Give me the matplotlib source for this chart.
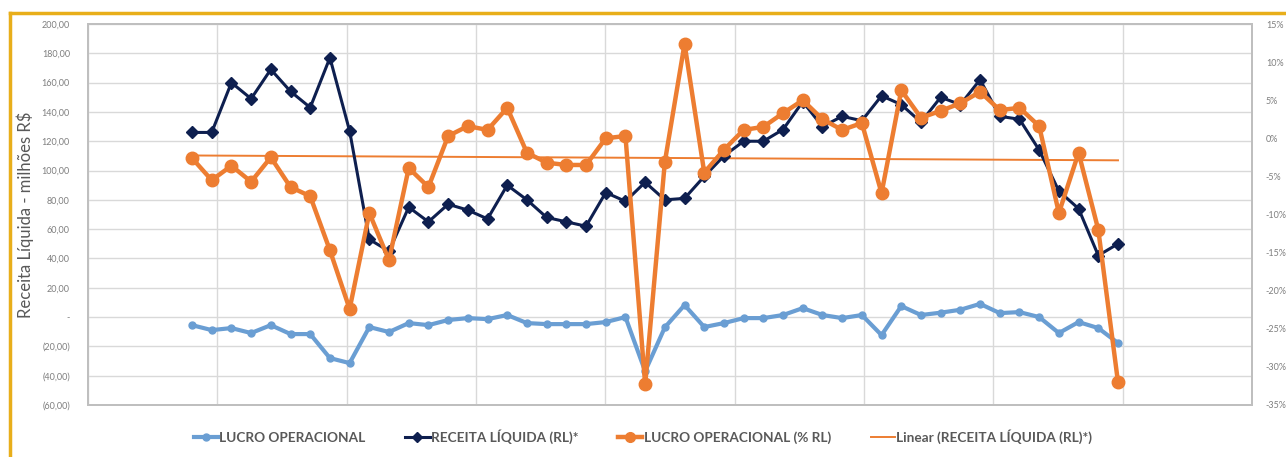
import numpy as np
import matplotlib
matplotlib.use('Agg')
import matplotlib.pyplot as plt
from matplotlib.lines import Line2D

plt.rcParams['font.family'] = ['Lato', 'DejaVu Sans']

# dados (48 periodos)
receita = [126, 126, 160, 149, 169, 154, 143, 177, 127, 53, 45, 75, 65, 77, 73, 67,
           90, 80, 68, 65, 62, 85, 79, 92, 80, 81, 96, 110, 120, 120, 128, 147,
           130, 137, 134, 151, 145, 133, 150, 145, 162, 137, 135, 114, 86, 74, 42, 50]
lucro = [-5.5, -8.9, -7.5, -10.9, -5.5, -11.6, -11.6, -28, -31.4, -6.8, -10.2, -4.1,
         -5.5, -2.0, -0.7, -1.4, 1.4, -4.1, -4.8, -4.8, -4.8, -3.4, 0, -37,
         -7, 8.2, -6.8, -4.1, -0.7, -0.7, 1.4, 6.1, 1.4, -0.7, 1.4, -12.3,
         7.5, 1.4, 3, 5, 9, 2.7, 3.4, 0, -10.9, -3.4, -7.5, -17.7]
lucro_pct = [-2.6, -5.5, -3.6, -5.7, -2.5, -6.4, -7.6, -14.7, -22.4, -9.8, -16.0, -3.9,
             -6.4, 0.3, 1.6, 1.1, 4.0, -1.9, -3.2, -3.5, -3.5, 0.0, 0.3, -32.3,
             -3.1, 12.4, -4.5, -1.5, 1.1, 1.5, 3.3, 5.0, 2.5, 1.1, 2.0, -7.2,
             6.3, 2.7, 3.6, 4.6, 6.1, 3.7, 4.0, 1.6, -9.8, -1.9, -12.0, -32.0]

left_ticks = [200, 180, 160, 140, 120, 100, 80, 60, 40, 20, 0, -20, -40, -60]
right_ticks = [15, 10, 5, 0, -5, -10, -15, -20, -25, -30, -35]

legend_labels = ['LUCRO OPERACIONAL', 'RECEITA LÍQUIDA (RL)*',
                 'LUCRO OPERACIONAL (% RL)', 'Linear (RECEITA LÍQUIDA (RL)*)']

navy = '#0E1F4F'
orange = '#ED7D31'
light_blue = '#6A9ED3'
grid_color = '#D9D9D9'
text_gray = '#7F7F7F'


def fmt_left(v):
    if v == 0:
        return '-'
    s = '%.2f' % abs(v)
    s = s.replace('.', ',')
    if v < 0:
        return '(' + s + ')'
    return s


x = np.arange(len(receita))

fig = plt.figure(figsize=(12.86, 4.57), dpi=100)
ax = fig.add_axes([88 / 1286, 1 - 405 / 457, (1252 - 88) / 1286, (405 - 24) / 457])
ax2 = ax.twinx()

# linha de tendencia da receita
coef = np.polyfit(x, receita, 1)
trend = np.polyval(coef, x)

ax.plot(x, lucro, color=light_blue, lw=3, marker='o', ms=5, zorder=3)
ax.plot(x, receita, color=navy, lw=2.2, marker='D', ms=6.5, zorder=4)
ax.plot(x, trend, color=orange, lw=1.4, zorder=3)
ax2.plot(x, lucro_pct, color=orange, lw=3.2, marker='o', ms=9, zorder=5)

xmin = -104 / 19.70
xmax = 47 + 134 / 19.70
ax.set_xlim(xmin, xmax)
ax.set_ylim(-60, 200)
ax2.set_ylim(-35, 15)

ax.set_xticks(np.linspace(xmin, xmax, 10))
ax.set_yticks(left_ticks)
ax.set_yticklabels([fmt_left(v) for v in left_ticks])
ax2.set_yticks(right_ticks)
ax2.set_yticklabels([str(v) + '%' for v in right_ticks])

ax.grid(True, color=grid_color, lw=1)
ax.set_axisbelow(True)
ax.tick_params(axis='x', length=0, labelbottom=False)
ax.tick_params(axis='y', length=0, pad=13, labelsize=6.5, labelcolor=text_gray)
ax2.tick_params(axis='y', length=0, pad=10, labelsize=6.5, labelcolor=text_gray)

for a in (ax, ax2):
    for sp in a.spines.values():
        sp.set_color('#BFBFBF')
        sp.set_linewidth(1.3)

ax.set_ylabel('Receita Líquida - milhões R$', fontsize=12, color='#595959')
ax.yaxis.set_label_coords(-0.046, 0.5)

# legenda
handles = [
    Line2D([], [], color=light_blue, lw=3, marker='o', ms=5),
    Line2D([], [], color=navy, lw=2.2, marker='D', ms=5),
    Line2D([], [], color=orange, lw=3.2, marker='o', ms=7),
    Line2D([], [], color=orange, lw=1.4),
]
leg = fig.legend(handles, legend_labels, loc='center', bbox_to_anchor=(0.5, 1 - 437 / 457),
                 ncol=4, frameon=False, fontsize=9.8, handlelength=1.8, handletextpad=0.1,
                 columnspacing=2.9)
for t in leg.get_texts():
    t.set_color('#595959')
    t.set_fontweight('bold')

# borda amarela do quadro (so topo e lado esquerdo aparecem)
fx = 10 / 1286
fy = 1 - 13 / 457
fig.add_artist(Line2D([fx, fx], [0, fy], transform=fig.transFigure, color='#E8AE1A', lw=2.5))
fig.add_artist(Line2D([fx, 1], [fy, fy], transform=fig.transFigure, color='#E8AE1A', lw=2.5))

fig.savefig('out.png', dpi=100)
